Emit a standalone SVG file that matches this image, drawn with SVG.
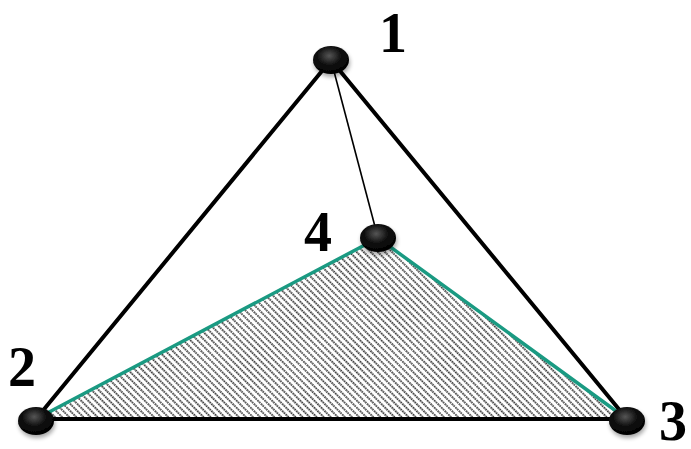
<svg xmlns="http://www.w3.org/2000/svg" width="691" height="449" viewBox="0 0 691 449">
<style>
.edge{stroke:#000;stroke-width:4;fill:none;stroke-linecap:round}
.thin{stroke:#000;stroke-width:1.6;fill:none}
.green{stroke:#1a9a82;stroke-width:3.5;fill:none;stroke-linecap:round}
.lbl{font-family:"Liberation Serif",serif;font-weight:bold;font-size:56px;fill:#000}
.node{fill:url(#ball);filter:url(#sh)}
</style>
<defs>
<radialGradient id="ball" cx="0.45" cy="0.35" r="0.65">
<stop offset="0" stop-color="#555"/>
<stop offset="0.5" stop-color="#111"/>
<stop offset="1" stop-color="#000"/>
</radialGradient>
<filter id="sh" x="-50%" y="-50%" width="200%" height="200%">
<feGaussianBlur in="SourceAlpha" stdDeviation="2"/>
<feOffset dx="1" dy="3" result="b"/>
<feComponentTransfer><feFuncA type="linear" slope="0.35"/></feComponentTransfer>
<feMerge><feMergeNode/><feMergeNode in="SourceGraphic"/></feMerge>
</filter>
<pattern id="hatch" patternUnits="userSpaceOnUse" width="5" height="5" patternTransform="rotate(45)">
<line x1="0" y1="1" x2="5" y2="1" stroke="#000" stroke-width="1.5" stroke-dasharray="1.6 0.9"/>
</pattern>
</defs>
<g id="face">
<polygon points="36,419 378,238 627,419" fill="url(#hatch)"/>
</g>
<g id="connectors">
<line class="edge" x1="331" y1="60" x2="36" y2="419"/>
<line class="edge" x1="331" y1="60" x2="627" y2="419"/>
<line class="edge" x1="36" y1="419" x2="627" y2="419"/>
<line class="thin" x1="331" y1="60" x2="378" y2="238"/>
<line class="green" x1="36" y1="419" x2="378" y2="238"/>
<line class="green" x1="378" y1="238" x2="627" y2="419"/>
</g>
<g id="n1"><ellipse class="node" cx="331" cy="60" rx="18" ry="14"/><text class="lbl" x="379" y="52">1</text></g>
<g id="n2"><ellipse class="node" cx="36" cy="421" rx="18" ry="14"/><text class="lbl" x="8" y="386">2</text></g>
<g id="n3"><ellipse class="node" cx="627" cy="421" rx="18" ry="14"/><text class="lbl" x="659" y="440">3</text></g>
<g id="n4"><ellipse class="node" cx="378" cy="238" rx="18" ry="14"/><text class="lbl" x="304" y="251">4</text></g>
</svg>
